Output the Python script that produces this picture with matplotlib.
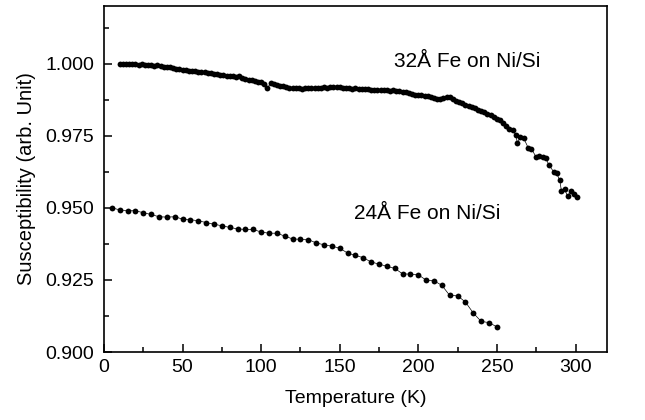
import matplotlib
matplotlib.use("Agg")
import matplotlib.pyplot as plt
from matplotlib.ticker import MultipleLocator, FormatStrFormatter

plt.rcParams['font.family'] = ['Liberation Sans', 'DejaVu Sans']

# 32 A Fe on Ni/Si (dense scan)
t_32 = [10, 12, 14, 16, 18, 20, 22, 24, 26, 28, 30, 32, 34, 36, 38, 40, 42, 44, 46, 48,
        50, 52, 54, 56, 58, 60, 62, 64, 66, 68, 70, 72, 74, 76, 78, 80, 82, 84, 86, 88,
        90, 92, 94, 96, 98, 100, 102, 104, 106, 108, 110, 112, 114, 116, 118, 120, 122, 124, 126, 128,
        130, 132, 134, 136, 138, 140, 142, 144, 146, 148, 150, 152, 154, 156, 158, 160, 162, 164, 166, 168,
        170, 172, 174, 176, 178, 180, 182, 184, 186, 188, 190, 192, 194, 196, 198, 200, 202, 204, 206, 208,
        210, 212, 214, 216, 218, 220, 222, 224, 226, 228, 230, 232, 234, 236, 238, 240, 242, 244, 246, 248,
        250, 252, 254, 256, 258,
        260, 262, 263, 265, 267, 270, 272, 275, 277, 279, 281, 283, 286, 288, 290, 291, 293, 295, 297, 299, 301]
chi_32 = [1.0000, 0.9999, 1.0000, 0.9998, 0.9999, 0.9998, 0.9997, 0.9998, 0.9996, 0.9995,
          0.9995, 0.9993, 0.9994, 0.9991, 0.9990, 0.9988, 0.9987, 0.9984, 0.9982, 0.9980,
          0.9978, 0.9977, 0.9975, 0.9976, 0.9973, 0.9972, 0.9970, 0.9971, 0.9968, 0.9966,
          0.9965, 0.9963, 0.9961, 0.9959, 0.9958, 0.9958, 0.9957, 0.9955, 0.9956, 0.9952,
          0.9948, 0.9944, 0.9942, 0.9941, 0.9938, 0.9935, 0.9930, 0.9915, 0.9933, 0.9930,
          0.9927, 0.9924, 0.9921, 0.9919, 0.9917, 0.9916, 0.9915, 0.9914, 0.9913, 0.9914,
          0.9915, 0.9914, 0.9916, 0.9917, 0.9916, 0.9918, 0.9917, 0.9919, 0.9918, 0.9919,
          0.9918, 0.9917, 0.9915, 0.9914, 0.9913, 0.9914, 0.9912, 0.9911, 0.9912, 0.9911,
          0.9910, 0.9909, 0.9909, 0.9907, 0.9908, 0.9907, 0.9906, 0.9907, 0.9905, 0.9904,
          0.9903, 0.9901, 0.9899, 0.9896, 0.9893, 0.9892, 0.9891, 0.9889, 0.9887, 0.9884,
          0.9882, 0.9879, 0.9877, 0.9880, 0.9884, 0.9883, 0.9876, 0.9871, 0.9866, 0.9862,
          0.9858, 0.9853, 0.9849, 0.9845, 0.9840, 0.9835, 0.9831, 0.9826, 0.9821, 0.9815,
          0.9809, 0.9803, 0.9795, 0.9785, 0.9775,
          0.9770, 0.9753, 0.9725, 0.9745, 0.9742, 0.9707, 0.9705, 0.9675, 0.9681, 0.9678,
          0.9674, 0.9649, 0.9626, 0.9620, 0.9595, 0.9560, 0.9565, 0.9540, 0.9560, 0.9548, 0.9536]

# 24 A Fe on Ni/Si
t_24 = [5, 10, 15, 20, 25, 30, 35, 40, 45, 50, 55, 60, 65, 70, 75, 80, 85, 90, 95, 100,
        105, 110, 115, 120, 125, 130, 135, 140, 145, 150, 155, 160, 165, 170, 175, 180, 185, 190, 195, 200,
        205, 210, 215, 220, 225, 230, 235, 240, 245, 250]
chi_24 = [0.9500, 0.9493, 0.9490, 0.9490, 0.9483, 0.9477, 0.9469, 0.9468, 0.9469, 0.9461,
          0.9459, 0.9455, 0.9449, 0.9443, 0.9438, 0.9432, 0.9427, 0.9425, 0.9425, 0.9416,
          0.9412, 0.9412, 0.9402, 0.9392, 0.9391, 0.9390, 0.9378, 0.9372, 0.9367, 0.9360,
          0.9343, 0.9335, 0.9327, 0.9312, 0.9305, 0.9297, 0.9290, 0.9271, 0.9270, 0.9268,
          0.9249, 0.9247, 0.9231, 0.9196, 0.9195, 0.9173, 0.9135, 0.9106, 0.9102, 0.9087]

fig = plt.figure(figsize=(6.45, 4.2), dpi=100)
ax = fig.add_axes([0.1612, 0.1619, 0.7798, 0.8238])

ax.plot(t_32, chi_32, '-o', color='black', lw=0.5, ms=4.2, mew=0)
ax.plot(t_24, chi_24, '-o', color='black', lw=0.5, ms=4.2, mew=0)

ax.text(184.5, 1.0007, '32Å Fe on Ni/Si', fontsize=15, va='center')
ax.text(159, 0.9481, '24Å Fe on Ni/Si', fontsize=15, va='center')

ax.set_xlim(0, 320)
ax.set_ylim(0.900, 1.020)
ax.xaxis.set_major_locator(MultipleLocator(50))
ax.xaxis.set_minor_locator(MultipleLocator(25))
ax.yaxis.set_major_locator(MultipleLocator(0.025))
ax.yaxis.set_minor_locator(MultipleLocator(0.0125))
ax.yaxis.set_major_formatter(FormatStrFormatter('%.3f'))
ax.tick_params(which='both', direction='in', top=False, right=False, labelsize=14, width=1.1)
ax.tick_params(axis='y', pad=7)
ax.tick_params(axis='x', pad=5)
ax.tick_params(which='major', length=6)
ax.tick_params(which='minor', length=3.5)
for sp in ax.spines.values():
    sp.set_linewidth(1.2)

ax.set_xlabel('Temperature (K)', fontsize=14, labelpad=10)
ax.set_ylabel('Susceptibility (arb. Unit)', fontsize=14.5, labelpad=7)

fig.savefig('out.png', dpi=100)
